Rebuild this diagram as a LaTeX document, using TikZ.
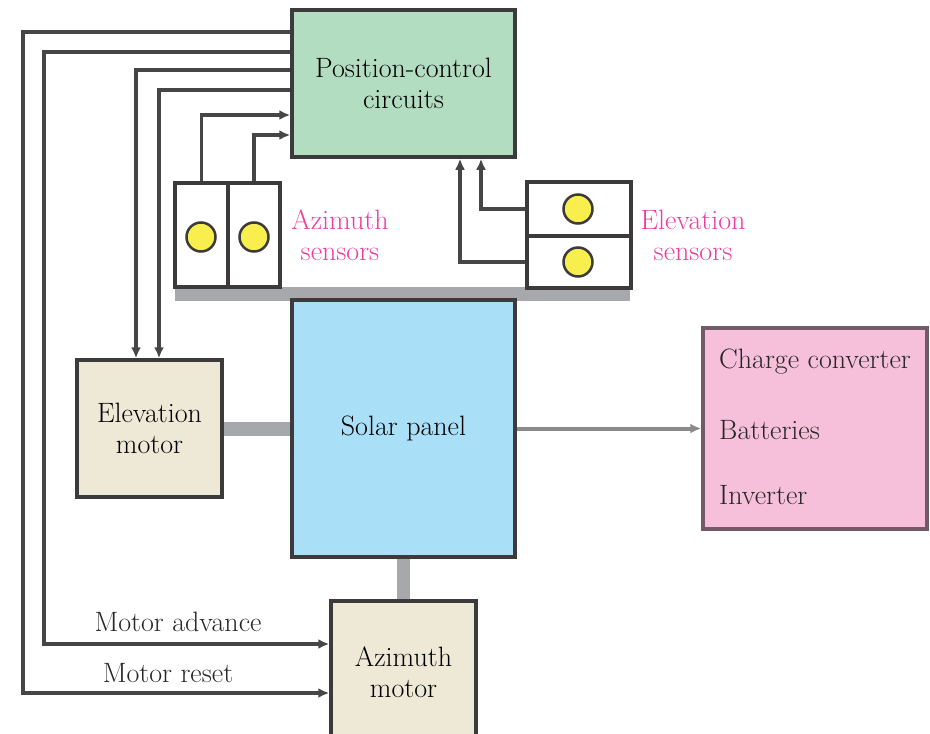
\documentclass[tikz,border=0pt]{standalone}
\usepackage{fontspec}
\usetikzlibrary{arrows.meta,calc,backgrounds}
\definecolor{pccgreen}{HTML}{B3DDC1}
\definecolor{solarblue}{HTML}{AADFF8}
\definecolor{motorbeige}{HTML}{EEE8D6}
\definecolor{loadpink}{HTML}{F6C0DA}
\definecolor{loadedge}{HTML}{735A66}
\definecolor{edgegray}{HTML}{3C3A3A}
\definecolor{wiregray}{HTML}{464646}
\definecolor{bargray}{HTML}{A7A8AB}
\definecolor{outgray}{HTML}{8A8A8A}
\definecolor{sensorpink}{HTML}{EC3D9E}
\definecolor{lampyellow}{HTML}{F8EE4E}
\newcommand\bigtxt{\fontsize{28}{31}\selectfont}
\begin{document}
\begin{tikzpicture}[x=1pt,y=-1pt,
  block/.style={draw=edgegray, line width=3.5pt, inner sep=0pt, align=center, font=\bigtxt},
  sensorbox/.style={draw=edgegray, line width=3.5pt, fill=white, inner sep=0pt},
  lamp/.style={circle, draw=edgegray, line width=2.5pt, fill=lampyellow, minimum size=29pt, inner sep=0pt},
  wire/.style={draw=wiregray, line width=3.5pt, -{Latex[length=11pt,width=10pt]}},
  outwire/.style={draw=outgray, line width=4pt, -{Latex[length=11pt,width=10pt]}},
  bar/.style={draw=bargray},
  lbl/.style={font=\bigtxt, text=sensorpink, align=center, inner sep=0pt},
  txt/.style={font=\bigtxt, inner sep=0pt, text=black!85}
]
\useasboundingbox (0,0) rectangle (930,734);
\clip (0,0) rectangle (930,734);

% blocks
\node[block, fill=pccgreen, minimum width=223pt, minimum height=147pt] (pcc) at (403.5,83.5) {Position-control\\circuits};
\node[block, fill=solarblue, minimum width=223pt, minimum height=257pt] (solar) at (403.5,428.5) {Solar panel};
\node[block, fill=motorbeige, minimum width=145pt, minimum height=137pt] (elm) at (149.5,428.5) {Elevation\\motor};
\node[block, fill=motorbeige, minimum width=145pt, minimum height=142pt] (azm) at (403.5,672) {Azimuth\\motor};
\node[block, draw=loadedge, fill=loadpink, minimum width=224pt, minimum height=201pt] (load) at (815,428.5) {};
\node[txt, anchor=west] (cc) at (719,362) {Charge converter};
\node[txt, anchor=west] (bat) at (719,430) {Batteries};
\node[txt, anchor=west] (inv) at (719,495) {Inverter};

% sensors
\node[sensorbox, minimum width=53pt, minimum height=104pt] (az1) at (201.5,235) {};
\node[sensorbox, minimum width=52pt, minimum height=104pt] (az2) at (254,235) {};
\node[sensorbox, minimum width=104pt, minimum height=54pt] (el1) at (579,209) {};
\node[sensorbox, minimum width=104pt, minimum height=52pt] (el2) at (579,262) {};
\node[lamp] (l1) at (201,237) {};
\node[lamp] (l2) at (254,237) {};
\node[lamp] (l3) at (578,209) {};
\node[lamp] (l4) at (578,262) {};
\node[lbl] (azl) at (340,235) {Azimuth\\sensors};
\node[lbl] (ell) at (693,235) {Elevation\\sensors};

% background bars
\begin{scope}[on background layer]
  \fill[bargray] (175,287) rectangle (630,301);
  \draw[bar, line width=14pt] (elm.east) -- (solar.west);
  \draw[bar, line width=13pt] (solar.south) -- (azm.north);
\end{scope}

% sensor wires into position control
\draw[wire] (az1.north) |- (pcc.west |- 0,115);
\draw[wire] (az2.north) |- (pcc.west |- 0,135);
\draw[wire] (el1.west) -| (pcc.south -| 481,0);
\draw[wire] (el2.west) -| (pcc.south -| 460,0);

% control wires to motors
\draw[wire] (pcc.west |- 0,32) -| (23,693) -- (azm.west |- 0,693);
\draw[wire] (pcc.west |- 0,52) -| (44,644) -- (azm.west |- 0,644);
\draw[wire] (pcc.west |- 0,70) -| (elm.north -| 136,0);
\draw[wire] (pcc.west |- 0,90) -| (elm.north -| 159,0);
\node[txt] (madv) at (178,622) {Motor advance};
\node[txt] (mres) at (168,673) {Motor reset};

% output
\draw[outwire] (solar.east) -- (load.west);
\end{tikzpicture}
\end{document}
